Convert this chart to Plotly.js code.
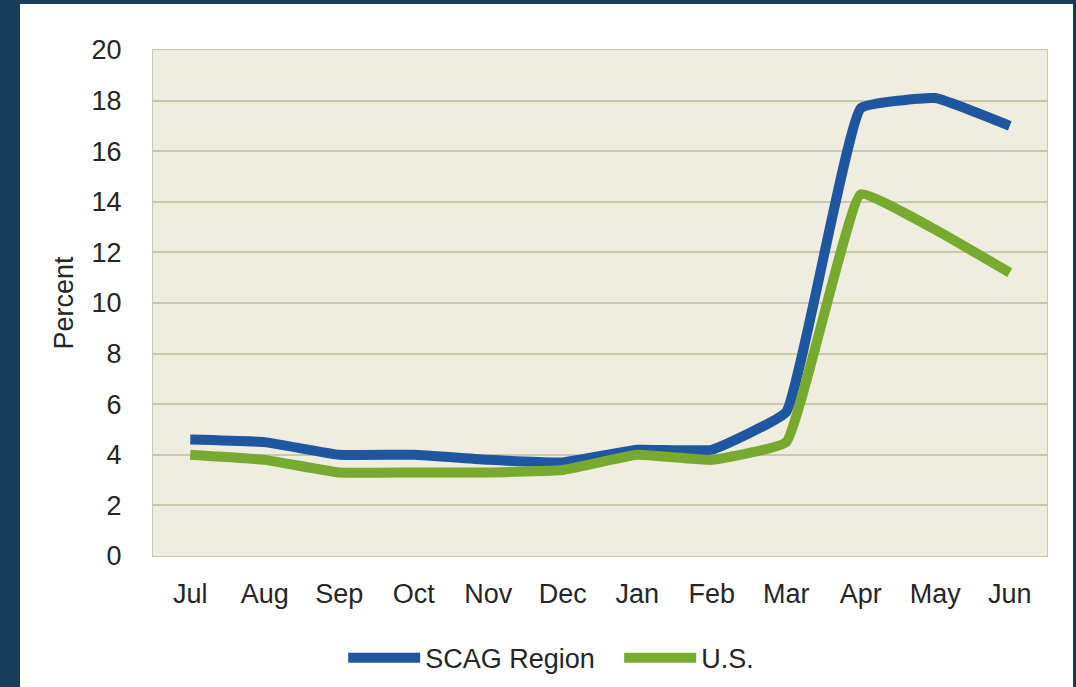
<!DOCTYPE html>
<html>
<head>
<meta charset="utf-8">
<script src="https://cdn.plot.ly/plotly-3.0.1.min.js"></script>
<style>
  html, body { margin: 0; padding: 0; background: #163d57; width: 1076px; height: 687px; overflow: hidden; }
  #chart { position: absolute; left: 20px; top: 4px; width: 1053px; height: 683px; background: #ffffff; }
</style>
</head>
<body>
<div id="chart"></div>
<script>
const months = ["Jul", "Aug", "Sep", "Oct", "Nov", "Dec", "Jan", "Feb", "Mar", "Apr", "May", "Jun"];
const scagRegion = [4.6, 4.5, 4.0, 4.0, 3.8, 3.7, 4.2, 4.2, 5.7, 17.7, 18.1, 17.0];
const usValues = [4.0, 3.8, 3.3, 3.3, 3.3, 3.4, 4.0, 3.8, 4.5, 14.3, 12.9, 11.2];
const yTicks = [0, 2, 4, 6, 8, 10, 12, 14, 16, 18, 20];

const font = "Liberation Sans, Arial, sans-serif";
const textColor = "#262626";

const traces = [
  {
    x: months, y: scagRegion, name: "SCAG Region", type: "scatter", mode: "lines",
    line: { color: "#1f56a0", width: 10, shape: "spline", smoothing: 0.3 }
  },
  {
    x: months, y: usValues, name: "U.S.", type: "scatter", mode: "lines",
    line: { color: "#78aa2f", width: 10, shape: "spline", smoothing: 0.3 }
  }
];

const layout = {
  width: 1053, height: 683,
  margin: { l: 133, r: 26, t: 46, b: 131 },
  paper_bgcolor: "#ffffff",
  plot_bgcolor: "#efeddf",
  font: { family: font, size: 27, color: textColor },
  showlegend: true,
  legend: {
    orientation: "h",
    xref: "container", x: 0.569, xanchor: "center",
    yref: "container", y: 0.042, yanchor: "middle",
    font: { family: font, size: 27, color: textColor },
    bgcolor: "rgba(0,0,0,0)", itemwidth: 72, tracegroupgap: 0,
    entrywidth: 189, entrywidthmode: "pixels"
  },
  xaxis: {
    type: "category",
    tickvals: months, ticktext: months,
    showgrid: false, zeroline: false,
    showline: true, linecolor: "#cbc7aa", linewidth: 1, mirror: true,
    ticks: "outside", ticklen: 14, tickcolor: "rgba(0,0,0,0)",
    tickfont: { family: font, size: 27, color: textColor },
    range: [-0.5, 11.5], fixedrange: true
  },
  yaxis: {
    range: [0, 20], tickvals: yTicks,
    showgrid: true, gridcolor: "#cbc7a9", gridwidth: 2,
    zeroline: false,
    showline: true, linecolor: "#cbc7aa", linewidth: 1, mirror: true,
    ticks: "outside", ticklen: 25, tickcolor: "rgba(0,0,0,0)",
    tickfont: { family: font, size: 27, color: textColor },
    title: { text: "Percent", font: { family: font, size: 27, color: textColor }, standoff: 10 },
    fixedrange: true
  }
};

Plotly.newPlot("chart", traces, layout, { displayModeBar: false, staticPlot: true });
</script>
</body>
</html>
